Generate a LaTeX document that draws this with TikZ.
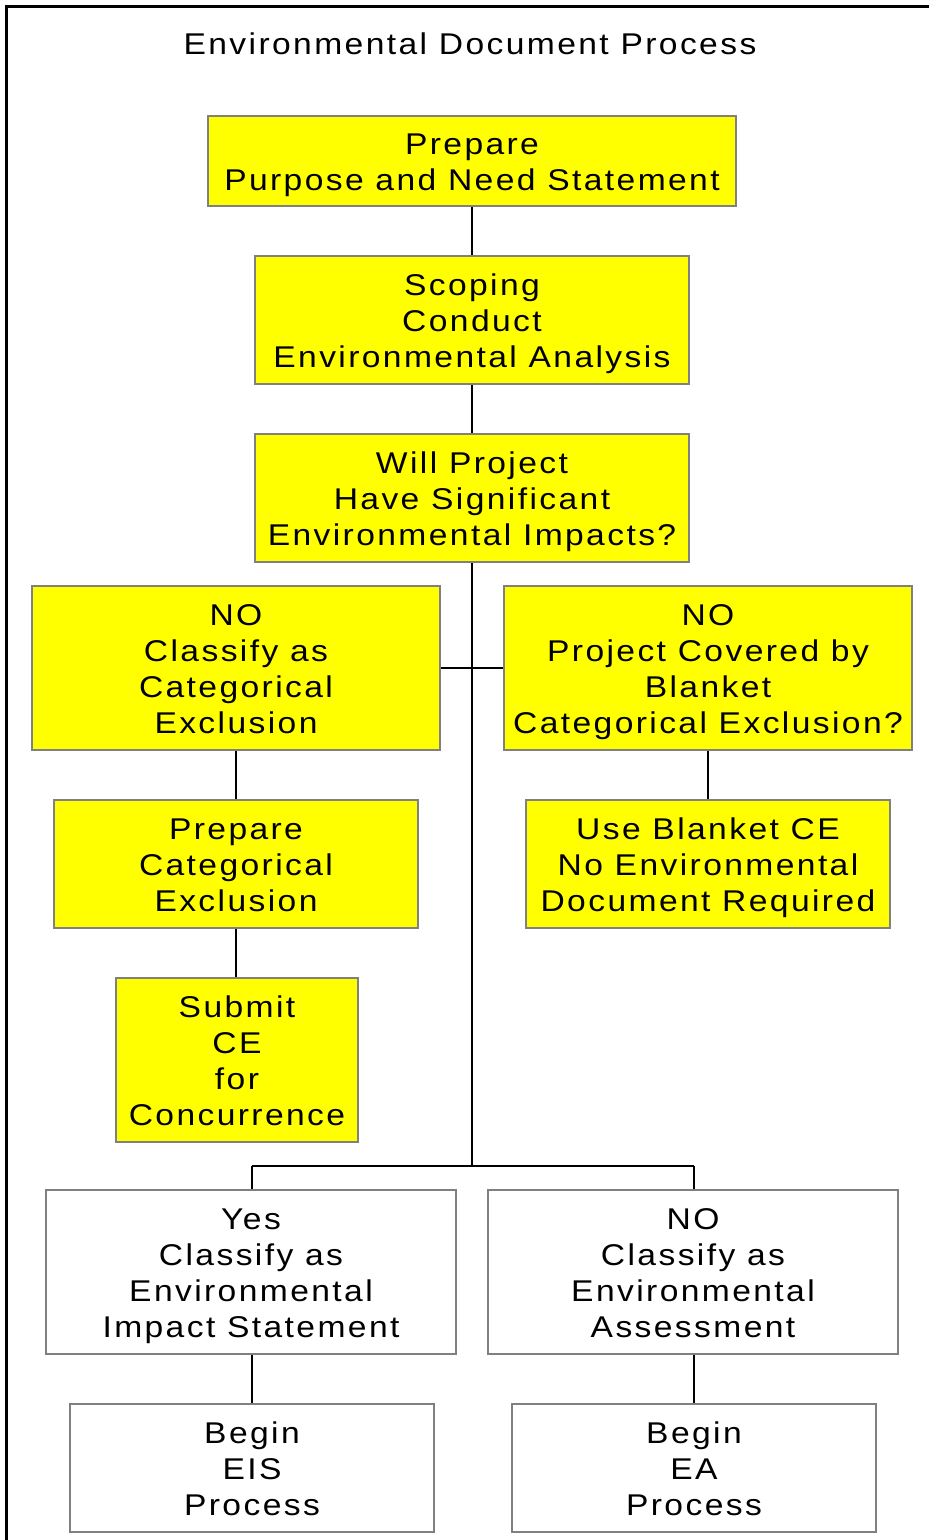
\documentclass[tikz,border=0pt]{standalone}
\usepackage{fontspec}
\setmainfont{Liberation Sans}[FakeStretch=1.12,LetterSpace=8]
\usepackage{xcolor}
\usepackage{tikz}
\usetikzlibrary{calc}
\definecolor{boxfill}{HTML}{FFFF00}
\definecolor{boxedge}{HTML}{808080}
\newcommand\boxtext[1]{\rule{0pt}{29pt}#1\rule[-7pt]{0pt}{7pt}}
\tikzset{
  ybox/.style={rectangle, draw=boxedge, fill=boxfill, line width=2pt, inner sep=0pt, align=center,
    font=\fontsize{30}{36}\selectfont},
  wbox/.style={ybox, fill=white},
  thinline/.style={draw=black, line width=1.3pt},
  thickline/.style={draw=black, line width=2.6pt},
  frameline/.style={draw=black, line width=3pt},
  lab/.style={font=\fontsize{30}{36}\selectfont},
}

\begin{document}
\begin{tikzpicture}[x=1pt,y=-1pt]
  \useasboundingbox (0,0) rectangle (929,1540);
  \draw[frameline] (6,1540) -- (6,6) -- (929,6);

  \node[lab,anchor=base] (title) at (470,54) {Environmental Document Process};

  \node[ybox,minimum width=528,minimum height=90] (Prep) at (472,161) {\boxtext{Prepare\\Purpose and Need Statement}};
  \node[ybox,minimum width=434,minimum height=128] (Scope) at (472,320) {\boxtext{Scoping\\Conduct\\Environmental Analysis}};
  \node[ybox,minimum width=434,minimum height=128] (Will) at (472,498) {\boxtext{Will Project\\Have Significant\\Environmental Impacts?}};
  \node[ybox,minimum width=408,minimum height=164] (NoCE) at (236,668) {\boxtext{NO\\Classify as\\Categorical\\Exclusion}};
  \node[ybox,minimum width=408,minimum height=164] (NoBlank) at (708,668) {\boxtext{NO\\Project Covered by\\Blanket\\Categorical Exclusion?}};
  \node[ybox,minimum width=364,minimum height=128] (PrepCE) at (236,864) {\boxtext{Prepare\\Categorical\\Exclusion}};
  \node[ybox,minimum width=364,minimum height=128] (Blanket) at (708,864) {\boxtext{Use Blanket CE\\No Environmental\\Document Required}};
  \node[ybox,minimum width=242,minimum height=164] (Submit) at (237,1060) {\boxtext{Submit\\CE\\for\\Concurrence}};
  \node[wbox,minimum width=410,minimum height=164] (EIS) at (251,1272) {\boxtext{Yes\\Classify as\\Environmental\\Impact Statement}};
  \node[wbox,minimum width=410,minimum height=164] (EA) at (693,1272) {\boxtext{NO\\Classify as\\Environmental\\Assessment}};
  \node[wbox,minimum width=364,minimum height=128] (BeginEIS) at (252,1468) {\boxtext{Begin\\EIS\\Process}};
  \node[wbox,minimum width=364,minimum height=128] (BeginEA) at (694,1468) {\boxtext{Begin\\EA\\Process}};

  \coordinate (J1) at (Will.south |- NoCE.east);
  \coordinate (J2) at ($(Will.south)+(0,603)$);
  \coordinate (L2) at (J2 -| BeginEIS.north);
  \coordinate (R2) at (J2 -| BeginEA.north);

  \draw[thinline] (Prep.south) -- (Scope.north);
  \draw[thinline] (Scope.south) -- (Will.north);
  \draw[thickline] (Will.south) -- (J2);
  \draw[thickline] (NoCE.east) -- (J1);
  \draw[thinline] (J1) -- (NoBlank.west);
  \draw[thinline] (NoCE.south) -- (PrepCE.north);
  \draw[thinline] (PrepCE.south) -- (PrepCE.south |- Submit.north);
  \draw[thinline] (NoBlank.south) -- (Blanket.north);
  \draw[thickline] (L2) -- (R2);
  \draw[thinline] (L2) -- (L2 |- EIS.north);
  \draw[thinline] (R2) -- (R2 |- EA.north);
  \draw[thinline] (BeginEIS.north |- EIS.south) -- (BeginEIS.north);
  \draw[thinline] (BeginEA.north |- EA.south) -- (BeginEA.north);
\end{tikzpicture}
\end{document}
